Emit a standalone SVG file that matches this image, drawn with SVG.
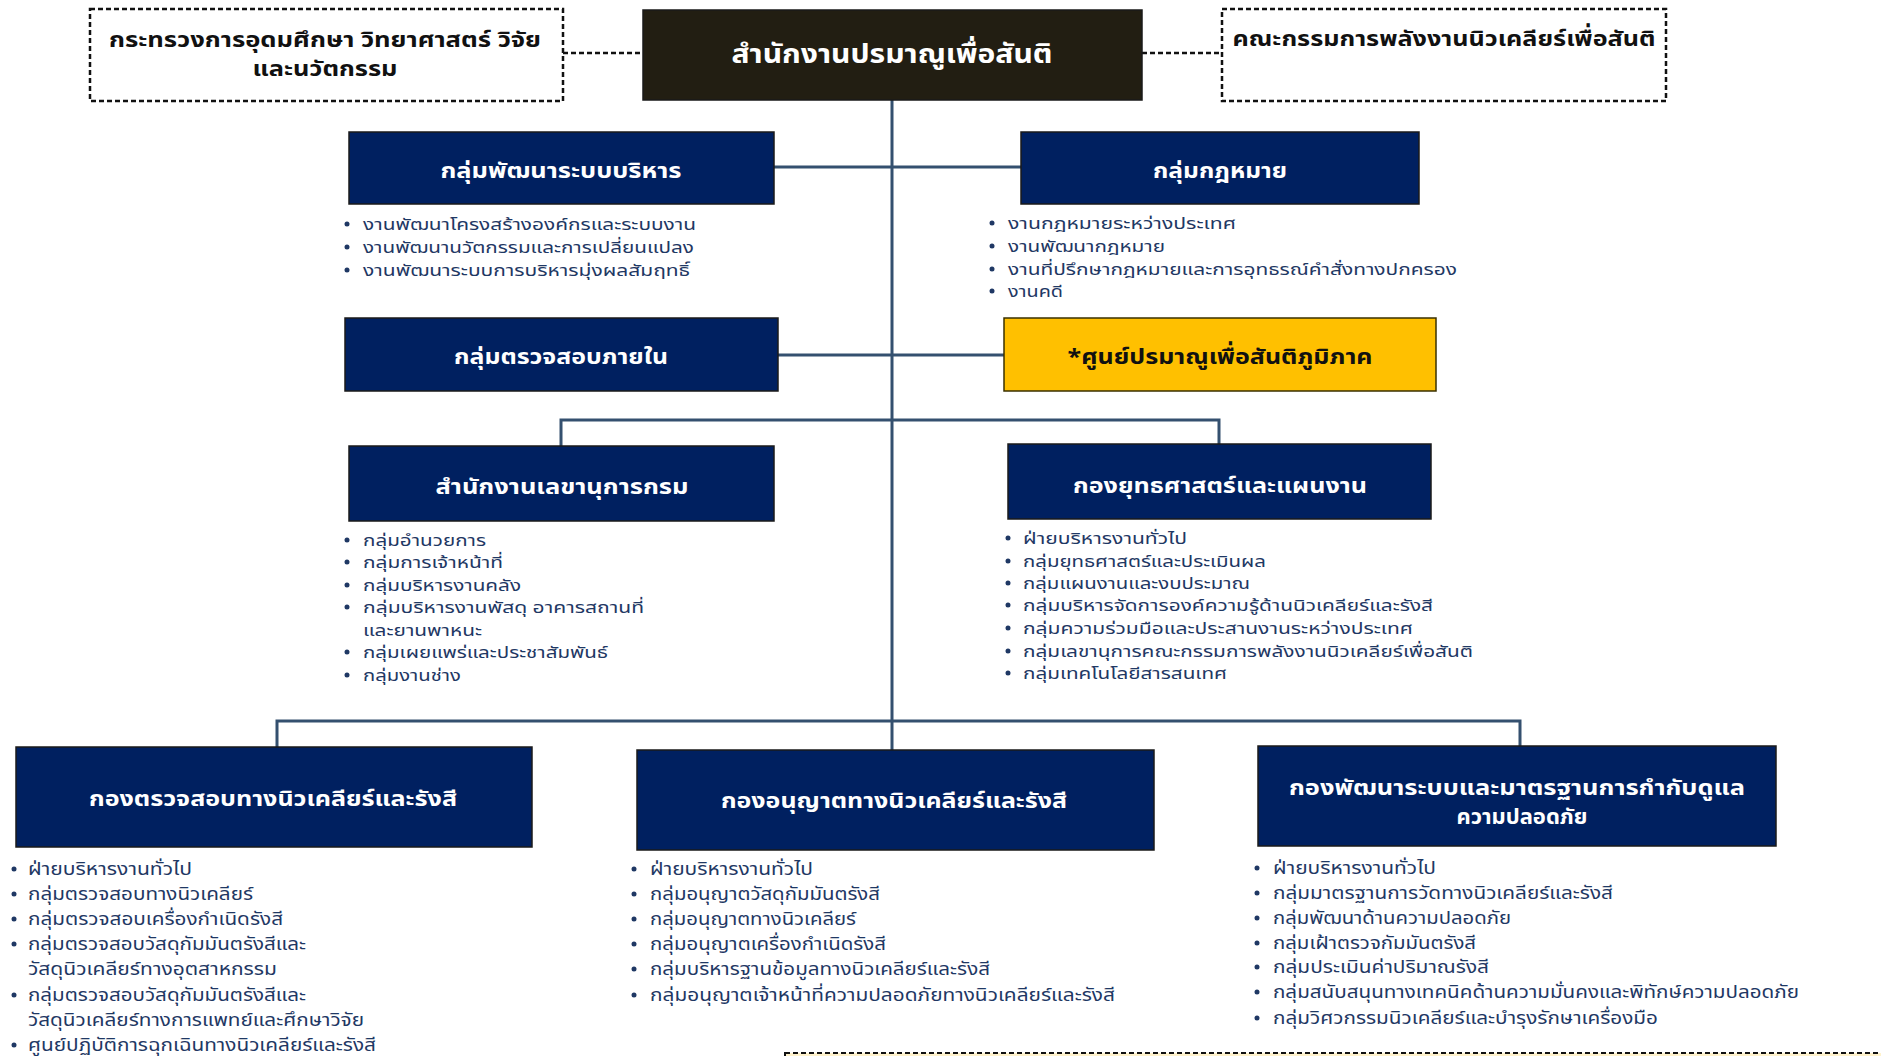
<svg xmlns="http://www.w3.org/2000/svg" width="1881" height="1056" viewBox="0 0 1881 1056">
<style>
.bg{fill:#ffffff}
.box{fill:#002060;stroke:#1a1a1a;stroke-width:1.5}
.main{fill:#221e12;stroke:#1a1a1a;stroke-width:1.5}
.yel{fill:#ffc000;stroke:#3a3000;stroke-width:1.5}
.dash{fill:#ffffff;stroke:#111111;stroke-width:2.5;stroke-dasharray:5 3}
.note{fill:#fff2cc;stroke:#111111;stroke-width:2;stroke-dasharray:5 3}
.con{fill:none;stroke:#34506f;stroke-width:3}
.dcon{fill:none;stroke:#111111;stroke-width:2.5;stroke-dasharray:5 3}
text{font-family:"Noto Sans Thai","Noto Sans","DejaVu Sans",sans-serif}
.t{fill:#ffffff;font-weight:700;font-size:22px;text-anchor:middle}
.t2{fill:#ffffff;font-weight:700;font-size:20.5px;text-anchor:middle}
.tm{fill:#ffffff;font-weight:700;font-size:26px;text-anchor:middle}
.tk{fill:#111111;font-weight:700;font-size:22px;text-anchor:middle}
.tk2{fill:#111111;font-weight:700;font-size:20.5px;text-anchor:middle}
.ty{fill:#111111;font-weight:700;font-size:22px;text-anchor:middle}
.b{fill:#1f3864;font-size:16px}
.bb{fill:#1f3864;font-size:17.5px}
.dot{fill:#1f3864}
</style>
<rect class="bg" x="0" y="0" width="1881" height="1056"/>

<g id="connectors">
<path class="dcon" d="M563,53 H643"/>
<path class="dcon" d="M1142,53 H1222"/>
<path class="con" d="M892,100 V750"/>
<path class="con" d="M774,167 H1021"/>
<path class="con" d="M778,355 H1004"/>
<path class="con" d="M561,446 V420 H1219 V444"/>
<path class="con" d="M277,747 V721 H1520 V746"/>
</g>

<g id="ministry">
<rect class="dash" x="90" y="9" width="473" height="92"/>
<text class="tk2" x="325" y="47" textLength="432" lengthAdjust="spacingAndGlyphs">กระทรวงการอุดมศึกษา วิทยาศาสตร์ วิจัย</text>
<text class="tk2" x="325" y="76" textLength="145" lengthAdjust="spacingAndGlyphs">และนวัตกรรม</text>
</g>

<g id="oap">
<rect class="main" x="643" y="10" width="499" height="90"/>
<text class="tm" x="892" y="63" textLength="321" lengthAdjust="spacingAndGlyphs">สำนักงานปรมาณูเพื่อสันติ</text>
</g>

<g id="committee">
<rect class="dash" x="1222" y="9" width="444" height="92"/>
<text class="tk" x="1444" y="46" textLength="423" lengthAdjust="spacingAndGlyphs">คณะกรรมการพลังงานนิวเคลียร์เพื่อสันติ</text>
</g>

<g id="admin-dev">
<rect class="box" x="349" y="132" width="425" height="72"/>
<text class="t" x="561" y="178" textLength="241" lengthAdjust="spacingAndGlyphs">กลุ่มพัฒนาระบบบริหาร</text>
<circle class="dot" cx="347" cy="224" r="2.5"/><text class="b" x="363" y="230" textLength="333" lengthAdjust="spacingAndGlyphs">งานพัฒนาโครงสร้างองค์กรและระบบงาน</text>
<circle class="dot" cx="347" cy="247" r="2.5"/><text class="b" x="363" y="253" textLength="331" lengthAdjust="spacingAndGlyphs">งานพัฒนานวัตกรรมและการเปลี่ยนแปลง</text>
<circle class="dot" cx="347" cy="270" r="2.5"/><text class="b" x="363" y="276" textLength="327" lengthAdjust="spacingAndGlyphs">งานพัฒนาระบบการบริหารมุ่งผลสัมฤทธิ์</text>
</g>

<g id="legal">
<rect class="box" x="1021" y="132" width="398" height="72"/>
<text class="t" x="1220" y="178" textLength="134" lengthAdjust="spacingAndGlyphs">กลุ่มกฎหมาย</text>
<circle class="dot" cx="992" cy="223" r="2.5"/><text class="b" x="1008" y="229" textLength="228" lengthAdjust="spacingAndGlyphs">งานกฎหมายระหว่างประเทศ</text>
<circle class="dot" cx="992" cy="246" r="2.5"/><text class="b" x="1008" y="252" textLength="157" lengthAdjust="spacingAndGlyphs">งานพัฒนากฎหมาย</text>
<circle class="dot" cx="992" cy="269" r="2.5"/><text class="b" x="1008" y="275" textLength="449" lengthAdjust="spacingAndGlyphs">งานที่ปรึกษากฎหมายและการอุทธรณ์คำสั่งทางปกครอง</text>
<circle class="dot" cx="992" cy="291" r="2.5"/><text class="b" x="1008" y="297" textLength="55" lengthAdjust="spacingAndGlyphs">งานคดี</text>
</g>

<g id="internal-audit">
<rect class="box" x="345" y="318" width="433" height="73"/>
<text class="t" x="561" y="364" textLength="214" lengthAdjust="spacingAndGlyphs">กลุ่มตรวจสอบภายใน</text>
</g>

<g id="regional-center">
<rect class="yel" x="1004" y="318" width="432" height="73"/>
<text class="ty" x="1220" y="364" textLength="305" lengthAdjust="spacingAndGlyphs">*ศูนย์ปรมาณูเพื่อสันติภูมิภาค</text>
</g>

<g id="secretary">
<rect class="box" x="349" y="446" width="425" height="75"/>
<text class="t" x="562" y="494" textLength="253" lengthAdjust="spacingAndGlyphs">สำนักงานเลขานุการกรม</text>
<circle class="dot" cx="347" cy="540" r="2.5"/><text class="b" x="363" y="546" textLength="123" lengthAdjust="spacingAndGlyphs">กลุ่มอำนวยการ</text>
<circle class="dot" cx="347" cy="562" r="2.5"/><text class="b" x="363" y="568" textLength="140" lengthAdjust="spacingAndGlyphs">กลุ่มการเจ้าหน้าที่</text>
<circle class="dot" cx="347" cy="585" r="2.5"/><text class="b" x="363" y="591" textLength="158" lengthAdjust="spacingAndGlyphs">กลุ่มบริหารงานคลัง</text>
<circle class="dot" cx="347" cy="607" r="2.5"/><text class="b" x="363" y="613" textLength="281" lengthAdjust="spacingAndGlyphs">กลุ่มบริหารงานพัสดุ อาคารสถานที่</text>
<text class="b" x="363" y="636" textLength="119" lengthAdjust="spacingAndGlyphs">และยานพาหนะ</text>
<circle class="dot" cx="347" cy="652" r="2.5"/><text class="b" x="363" y="658" textLength="245" lengthAdjust="spacingAndGlyphs">กลุ่มเผยแพร่และประชาสัมพันธ์</text>
<circle class="dot" cx="347" cy="675" r="2.5"/><text class="b" x="363" y="681" textLength="98" lengthAdjust="spacingAndGlyphs">กลุ่มงานช่าง</text>
</g>

<g id="strategy">
<rect class="box" x="1008" y="444" width="423" height="75"/>
<text class="t" x="1220" y="493" textLength="294" lengthAdjust="spacingAndGlyphs">กองยุทธศาสตร์และแผนงาน</text>
<circle class="dot" cx="1008" cy="538" r="2.5"/><text class="b" x="1023" y="544" textLength="164" lengthAdjust="spacingAndGlyphs">ฝ่ายบริหารงานทั่วไป</text>
<circle class="dot" cx="1008" cy="561" r="2.5"/><text class="b" x="1023" y="567" textLength="243" lengthAdjust="spacingAndGlyphs">กลุ่มยุทธศาสตร์และประเมินผล</text>
<circle class="dot" cx="1008" cy="583" r="2.5"/><text class="b" x="1023" y="589" textLength="227" lengthAdjust="spacingAndGlyphs">กลุ่มแผนงานและงบประมาณ</text>
<circle class="dot" cx="1008" cy="605" r="2.5"/><text class="b" x="1023" y="611" textLength="410" lengthAdjust="spacingAndGlyphs">กลุ่มบริหารจัดการองค์ความรู้ด้านนิวเคลียร์และรังสี</text>
<circle class="dot" cx="1008" cy="628" r="2.5"/><text class="b" x="1023" y="634" textLength="390" lengthAdjust="spacingAndGlyphs">กลุ่มความร่วมมือและประสานงานระหว่างประเทศ</text>
<circle class="dot" cx="1008" cy="651" r="2.5"/><text class="b" x="1023" y="657" textLength="450" lengthAdjust="spacingAndGlyphs">กลุ่มเลขานุการคณะกรรมการพลังงานนิวเคลียร์เพื่อสันติ</text>
<circle class="dot" cx="1008" cy="673" r="2.5"/><text class="b" x="1023" y="679" textLength="204" lengthAdjust="spacingAndGlyphs">กลุ่มเทคโนโลยีสารสนเทศ</text>
</g>

<g id="inspection">
<rect class="box" x="16" y="747" width="516" height="100"/>
<text class="t" x="273" y="806" textLength="368" lengthAdjust="spacingAndGlyphs">กองตรวจสอบทางนิวเคลียร์และรังสี</text>
<circle class="dot" cx="14" cy="869" r="2.5"/><text class="bb" x="28" y="875" textLength="164" lengthAdjust="spacingAndGlyphs">ฝ่ายบริหารงานทั่วไป</text>
<circle class="dot" cx="14" cy="894" r="2.5"/><text class="bb" x="28" y="900" textLength="225" lengthAdjust="spacingAndGlyphs">กลุ่มตรวจสอบทางนิวเคลียร์</text>
<circle class="dot" cx="14" cy="919" r="2.5"/><text class="bb" x="28" y="925" textLength="255" lengthAdjust="spacingAndGlyphs">กลุ่มตรวจสอบเครื่องกำเนิดรังสี</text>
<circle class="dot" cx="14" cy="944" r="2.5"/><text class="bb" x="28" y="950" textLength="278" lengthAdjust="spacingAndGlyphs">กลุ่มตรวจสอบวัสดุกัมมันตรังสีและ</text>
<text class="bb" x="28" y="975" textLength="249" lengthAdjust="spacingAndGlyphs">วัสดุนิวเคลียร์ทางอุตสาหกรรม</text>
<circle class="dot" cx="14" cy="995" r="2.5"/><text class="bb" x="28" y="1001" textLength="278" lengthAdjust="spacingAndGlyphs">กลุ่มตรวจสอบวัสดุกัมมันตรังสีและ</text>
<text class="bb" x="28" y="1026" textLength="336" lengthAdjust="spacingAndGlyphs">วัสดุนิวเคลียร์ทางการแพทย์และศึกษาวิจัย</text>
<circle class="dot" cx="14" cy="1045" r="2.5"/><text class="bb" x="28" y="1051" textLength="348" lengthAdjust="spacingAndGlyphs">ศูนย์ปฏิบัติการฉุกเฉินทางนิวเคลียร์และรังสี</text>
</g>

<g id="licensing">
<rect class="box" x="637" y="750" width="517" height="100"/>
<text class="t" x="894" y="808" textLength="346" lengthAdjust="spacingAndGlyphs">กองอนุญาตทางนิวเคลียร์และรังสี</text>
<circle class="dot" cx="634" cy="869" r="2.5"/><text class="bb" x="650" y="875" textLength="163" lengthAdjust="spacingAndGlyphs">ฝ่ายบริหารงานทั่วไป</text>
<circle class="dot" cx="634" cy="894" r="2.5"/><text class="bb" x="650" y="900" textLength="230" lengthAdjust="spacingAndGlyphs">กลุ่มอนุญาตวัสดุกัมมันตรังสี</text>
<circle class="dot" cx="634" cy="919" r="2.5"/><text class="bb" x="650" y="925" textLength="206" lengthAdjust="spacingAndGlyphs">กลุ่มอนุญาตทางนิวเคลียร์</text>
<circle class="dot" cx="634" cy="944" r="2.5"/><text class="bb" x="650" y="950" textLength="236" lengthAdjust="spacingAndGlyphs">กลุ่มอนุญาตเครื่องกำเนิดรังสี</text>
<circle class="dot" cx="634" cy="969" r="2.5"/><text class="bb" x="650" y="975" textLength="340" lengthAdjust="spacingAndGlyphs">กลุ่มบริหารฐานข้อมูลทางนิวเคลียร์และรังสี</text>
<circle class="dot" cx="634" cy="995" r="2.5"/><text class="bb" x="650" y="1001" textLength="465" lengthAdjust="spacingAndGlyphs">กลุ่มอนุญาตเจ้าหน้าที่ความปลอดภัยทางนิวเคลียร์และรังสี</text>
</g>

<g id="standards">
<rect class="box" x="1258" y="746" width="518" height="100"/>
<text class="t2" x="1517" y="795" textLength="456" lengthAdjust="spacingAndGlyphs">กองพัฒนาระบบและมาตรฐานการกำกับดูแล</text>
<text class="t2" x="1522" y="824" textLength="131" lengthAdjust="spacingAndGlyphs">ความปลอดภัย</text>
<circle class="dot" cx="1257" cy="868" r="2.5"/><text class="bb" x="1273" y="874" textLength="163" lengthAdjust="spacingAndGlyphs">ฝ่ายบริหารงานทั่วไป</text>
<circle class="dot" cx="1257" cy="893" r="2.5"/><text class="bb" x="1273" y="899" textLength="340" lengthAdjust="spacingAndGlyphs">กลุ่มมาตรฐานการวัดทางนิวเคลียร์และรังสี</text>
<circle class="dot" cx="1257" cy="918" r="2.5"/><text class="bb" x="1273" y="924" textLength="238" lengthAdjust="spacingAndGlyphs">กลุ่มพัฒนาด้านความปลอดภัย</text>
<circle class="dot" cx="1257" cy="943" r="2.5"/><text class="bb" x="1273" y="949" textLength="203" lengthAdjust="spacingAndGlyphs">กลุ่มเฝ้าตรวจกัมมันตรังสี</text>
<circle class="dot" cx="1257" cy="967" r="2.5"/><text class="bb" x="1273" y="973" textLength="216" lengthAdjust="spacingAndGlyphs">กลุ่มประเมินค่าปริมาณรังสี</text>
<circle class="dot" cx="1257" cy="992" r="2.5"/><text class="bb" x="1273" y="998" textLength="526" lengthAdjust="spacingAndGlyphs">กลุ่มสนับสนุนทางเทคนิคด้านความมั่นคงและพิทักษ์ความปลอดภัย</text>
<circle class="dot" cx="1257" cy="1018" r="2.5"/><text class="bb" x="1273" y="1024" textLength="385" lengthAdjust="spacingAndGlyphs">กลุ่มวิศวกรรมนิวเคลียร์และบำรุงรักษาเครื่องมือ</text>
</g>

<g id="note">
<rect class="note" x="785" y="1053" width="1110" height="40"/>
</g>
</svg>
